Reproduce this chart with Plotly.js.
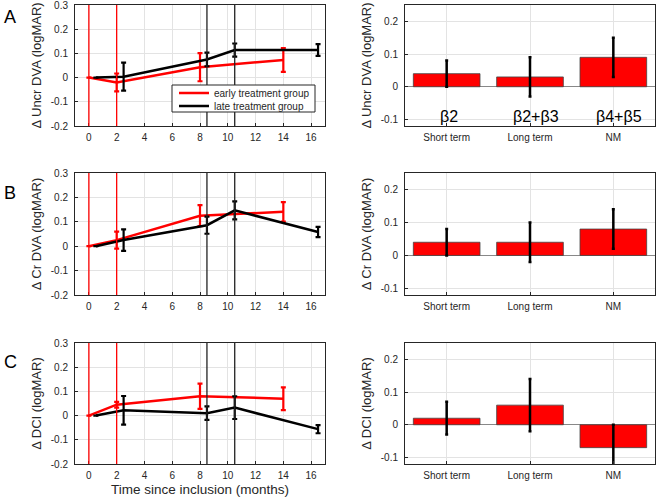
<!DOCTYPE html>
<html><head><meta charset="utf-8">
<script src="https://cdn.plot.ly/plotly-3.0.1.min.js"></script>
<style>body{margin:0;padding:0;background:#fff}#plot{width:658px;height:498px}</style>
</head><body><div id="plot"></div>
<script>
// ---- data ----
const monthsEarly = [0, 2, 8, 14];
const monthsLate = [0.5, 2.5, 8.5, 10.5, 16.5];
const earlyVlines = [0, 2];
const lateVlines = [8.5, 10.5];

const uncrEarly = [0, -0.02, 0.043, 0.073];
const uncrEarlyErr = [0, 0.037, 0.058, 0.049];
const uncrLate = [0, 0.004, 0.075, 0.114, 0.114];
const uncrLateErr = [0, 0.058, 0.028, 0.027, 0.024];

const crEarly = [0, 0.025, 0.125, 0.141];
const crEarlyErr = [0, 0.035, 0.043, 0.040];
const crLate = [0, 0.025, 0.086, 0.147, 0.058];
const crLateErr = [0, 0.044, 0.035, 0.037, 0.021];

const dciEarly = [0, 0.045, 0.080, 0.070];
const dciEarlyErr = [0, 0.012, 0.052, 0.047];
const dciLate = [0, 0.022, 0.010, 0.033, -0.056];
const dciLateErr = [0, 0.059, 0.028, 0.047, 0.017];

const terms = ['Short term', 'Long term', 'NM'];
const uncrBar = [0.04, 0.03, 0.09];
const uncrBarErr = [0.04, 0.06, 0.06];
const crBar = [0.04, 0.04, 0.08];
const crBarErr = [0.04, 0.06, 0.06];
const dciBar = [0.02, 0.06, -0.07];
const dciBarErr = [0.05, 0.08, 0.07];
const coefLabels = ['β2', 'β2+β3', 'β4+β5'];

const yTitles = ['Δ Uncr DVA (logMAR)', 'Δ Cr DVA (logMAR)', 'Δ DCI (logMAR)'];
const panelLetters = ['A', 'B', 'C'];
const xTitle = 'Time since inclusion (months)';
const legendNames = ['early treatment group', 'late treatment group'];

// ---- build ----
const RED = '#ff0000', BLK = '#000000', AX = '#262626', GRID = '#e3e3e3';
const rows = [
  {e: uncrEarly, ee: uncrEarlyErr, l: uncrLate, le: uncrLateErr, b: uncrBar, be: uncrBarErr},
  {e: crEarly, ee: crEarlyErr, l: crLate, le: crLateErr, b: crBar, be: crBarErr},
  {e: dciEarly, ee: dciEarlyErr, l: dciLate, le: dciLateErr, b: dciBar, be: dciBarErr}
];
const H = 498, W = 658, MT = 4;
const py = px => 1 - (px - MT) / (H - MT);   // pixel row -> paper y
const rowPx = [[5, 126], [173, 295], [343, 464]];
const leftX = [75 / W, 325 / W], rightX = [405 / W, 655 / W];

const traces = [];
const legStyle = {xanchor: 'left', yanchor: 'middle', bgcolor: 'rgba(0,0,0,0)', borderwidth: 0,
                  font: {size: 10, color: AX}, itemwidth: 30};
const layout = {
  width: W, height: H, margin: {l: 0, r: 0, t: MT, b: 0},
  paper_bgcolor: '#fff', plot_bgcolor: '#fff',
  font: {family: 'Liberation Sans, Arial, sans-serif', color: AX, size: 10},
  showlegend: true,
  legend: Object.assign({}, legStyle, {x: 174 / W, y: py(93)}),
  legend2: Object.assign({}, legStyle, {x: 174 / W, y: py(106)}),
  shapes: [], annotations: []
};

function axName(i) { return i === 1 ? '' : String(i); }

rows.forEach((r, k) => {
  const li = 2 * k + 1, ri = 2 * k + 2;
  const dom = [py(rowPx[k][1]), py(rowPx[k][0])];
  const xl = 'x' + axName(li), yl = 'y' + axName(li);
  const xr = 'x' + axName(ri), yr = 'y' + axName(ri);
  const common = {showline: true, linecolor: AX, linewidth: 1, mirror: true, ticks: 'inside',
                  ticklen: 3, tickcolor: AX, showgrid: true, gridcolor: GRID, gridwidth: 1,
                  tickfont: {size: 10, color: AX}, ticklabeloverflow: 'allow'};
  layout['xaxis' + axName(li)] = Object.assign({}, common, {domain: leftX, anchor: yl, range: [-1, 17],
    tickvals: [0, 2, 4, 6, 8, 10, 12, 14, 16], zeroline: false, ticklabelstandoff: 2});
  layout['yaxis' + axName(li)] = Object.assign({}, common, {domain: dom, anchor: xl, range: [-0.2, 0.3],
    tickvals: [-0.2, -0.1, 0, 0.1, 0.2, 0.3], ticktext: ['-0.2', '-0.1', '0', '0.1', '0.2', '0.3'],
    zeroline: false, ticklabelstandoff: 4,
    title: {text: yTitles[k], font: {size: 13, color: AX}, standoff: 6}});
  layout['xaxis' + axName(ri)] = Object.assign({}, common, {domain: rightX, anchor: yr, range: [-0.5, 2.5],
    type: 'category', zeroline: false, ticklabelstandoff: 2});
  layout['yaxis' + axName(ri)] = Object.assign({}, common, {domain: dom, anchor: xr, range: [-0.12, 0.25],
    tickvals: [-0.1, 0, 0.1, 0.2], ticktext: ['-0.1', '0', '0.1', '0.2'],
    zeroline: true, zerolinecolor: '#888', zerolinewidth: 1, ticklabelstandoff: 4,
    title: {text: yTitles[k], font: {size: 13, color: AX}, standoff: 6}});
  if (k === 2) layout['xaxis' + axName(li)].title = {text: xTitle, font: {size: 13.5, color: AX}, standoff: 4};

  earlyVlines.forEach(v => layout.shapes.push({type: 'line', xref: xl, yref: yl + ' domain', x0: v, x1: v, y0: 0, y1: 1,
    line: {color: RED, width: 1.3}}));
  lateVlines.forEach(v => layout.shapes.push({type: 'line', xref: xl, yref: yl + ' domain', x0: v, x1: v, y0: 0, y1: 1,
    line: {color: '#222', width: 1.3}}));

  traces.push({type: 'scatter', mode: 'lines', x: monthsEarly, y: r.e, xaxis: xl, yaxis: yl,
    name: legendNames[0], showlegend: k === 0, legend: 'legend', line: {color: RED, width: 2.5},
    error_y: {type: 'data', array: r.ee, visible: true, color: RED, thickness: 2.2, width: 2.5}});
  traces.push({type: 'scatter', mode: 'lines', x: monthsLate, y: r.l, xaxis: xl, yaxis: yl,
    name: legendNames[1], showlegend: k === 0, legend: 'legend2', line: {color: BLK, width: 2.5},
    error_y: {type: 'data', array: r.le, visible: true, color: BLK, thickness: 2.2, width: 2.5}});
  traces.push({type: 'bar', x: terms, y: r.b, xaxis: xr, yaxis: yr, width: 0.8, showlegend: false,
    marker: {color: RED, line: {color: '#444', width: 0.8}},
    error_y: {type: 'data', array: r.be, visible: true, color: BLK, thickness: 2.5, width: 1.5}});

  layout.annotations.push({xref: 'paper', yref: 'paper', x: 10 / W, y: py([17, 193, 362][k]),
    text: panelLetters[k], showarrow: false, font: {size: 18, color: '#000'}, xanchor: 'center', yanchor: 'middle'});
});

// legend frame (white box that covers the plot behind the legend entries)
layout.shapes.push({type: 'rect', xref: 'paper', yref: 'paper', x0: 172 / W, x1: 315 / W,
  y0: py(112), y1: py(85), fillcolor: '#fff', line: {color: AX, width: 1}, layer: 'above'});

coefLabels.forEach((t, i) => layout.annotations.push({xref: 'x2', yref: 'y2', x: terms[i], y: -0.092, text: t,
  showarrow: false, xshift: [2, 6, 6][i], font: {size: 16, color: '#000'}}));

Plotly.newPlot('plot', traces, layout, {staticPlot: true});
</script></body></html>
